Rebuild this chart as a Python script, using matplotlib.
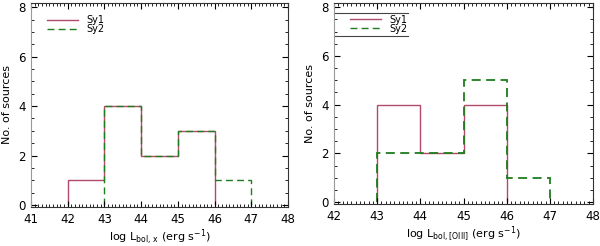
import matplotlib
matplotlib.use("Agg")
import matplotlib.pyplot as plt
from matplotlib.ticker import MultipleLocator
from matplotlib.lines import Line2D

# Left panel: log L_bol,X
left_sy1_edges = [42, 43, 44, 45, 46]
left_sy1_counts = [1, 4, 2, 3]
left_sy2_edges = [43, 44, 45, 46, 47]
left_sy2_counts = [4, 2, 3, 1]

# Right panel: log L_bol,[OIII]
right_sy1_edges = [43, 44, 45, 46]
right_sy1_counts = [4, 2, 4]
right_sy2_edges = [43, 44, 45, 46, 47]
right_sy2_counts = [2, 2, 5, 1]

c1 = "#b04a68"
c2 = "#1e7d1e"

fig = plt.figure(figsize=(6.0, 2.46), dpi=100)
axL = fig.add_axes([31/600, 1-207/246, (288-31)/600, 204/246])
axR = fig.add_axes([334/600, 1-204/246, (593-334)/600, 201/246])

def style(ax, xmin, xmax, xlabel):
    ax.set_xlim(xmin, xmax)
    ax.set_ylim(-0.08, 8.17)
    ax.xaxis.set_major_locator(MultipleLocator(1))
    ax.xaxis.set_minor_locator(MultipleLocator(0.1))
    ax.yaxis.set_major_locator(MultipleLocator(2))
    ax.yaxis.set_minor_locator(MultipleLocator(0.5))
    ax.tick_params(which="both", direction="in", top=True, right=True, labelsize=8.5, color="black")
    ax.tick_params(which="major", length=4, width=0.8)
    ax.tick_params(axis="x", which="major", pad=4)
    ax.tick_params(axis="y", which="major", pad=4)
    ax.tick_params(which="minor", length=2, width=0.6)
    for s in ax.spines.values():
        s.set_linewidth(0.8)
        s.set_color("#333333")
    ax.spines["left"].set_color("#999999")
    ax.set_ylabel("No. of sources", fontsize=8, labelpad=4)
    ax.set_xlabel(xlabel, fontsize=8, labelpad=1)

axL.stairs(left_sy1_counts, left_sy1_edges, baseline=0, color=c1, lw=1.0, label="Sy1")
axL.stairs(left_sy2_counts, left_sy2_edges, baseline=0, color=c2, lw=1.0, ls=(0, (5, 3)), label="Sy2")
style(axL, 41, 48, r"log L$_{\rm bol,\,x}$ (erg s$^{-1}$)")
hL = [Line2D([], [], color=c1, lw=1.0), Line2D([], [], color=c2, lw=1.0, ls=(0, (5, 3)))]
axL.legend(hL, ["Sy1", "Sy2"], loc="upper left", frameon=False, fontsize=7,
           handlelength=3.2, labelspacing=-0.1, borderaxespad=0.2, bbox_to_anchor=(0.04, 0.97))

axR.stairs(right_sy1_counts, right_sy1_edges, baseline=0, color=c1, lw=1.0, label="Sy1")
axR.stairs(right_sy2_counts, right_sy2_edges, baseline=0, color=c2, lw=1.3, ls=(0, (5, 3)), label="Sy2")
style(axR, 42, 48, r"log L$_{\rm bol,[OIII]}$ (erg s$^{-1}$)")
hR = [Line2D([], [], color=c1, lw=1.0), Line2D([], [], color=c2, lw=1.0, ls=(0, (5, 3)))]
axR.legend(hR, ["Sy1", "Sy2"], loc="upper left", frameon=False, fontsize=7,
           handlelength=3.2, labelspacing=-0.1, borderaxespad=0.2, bbox_to_anchor=(0.04, 0.97))
axR.plot([0, 0.286], [0.952, 0.952], transform=axR.transAxes, color="#444444", lw=0.8, clip_on=False)
axR.plot([0, 0.286], [0.834, 0.834], transform=axR.transAxes, color="#444444", lw=0.8, clip_on=False)

fig.savefig("out.png", dpi=100)
